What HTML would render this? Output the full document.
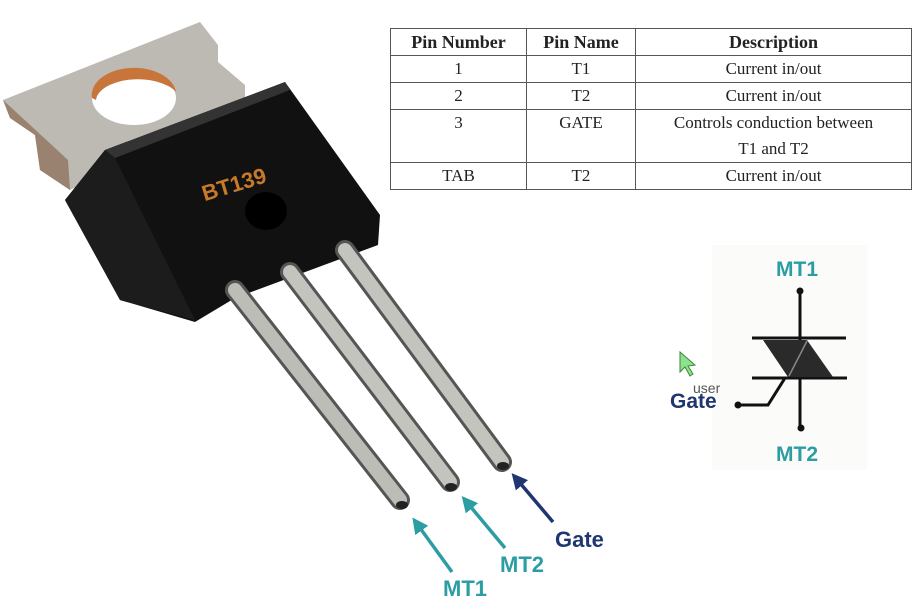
<!DOCTYPE html>
<html><head><meta charset="utf-8"><style>
body{margin:0;width:917px;height:602px;background:#fff;overflow:hidden;position:relative;font-family:"Liberation Sans",sans-serif}
table{position:absolute;left:390px;top:28px;width:522px;border-collapse:collapse;font-family:"Liberation Serif",serif;font-size:17px;color:#222}
td,th{border:1.5px solid #555;text-align:center;padding:0;line-height:26px}
th{font-weight:bold;font-size:18px}
</style></head><body>
<svg width="917" height="602" style="position:absolute;left:0;top:0">
<defs>
<marker id="at" markerWidth="16" markerHeight="16" refX="3" refY="8" orient="auto" markerUnits="userSpaceOnUse"><path d="M0,0 L16,8 L0,16 z" fill="#2b9da3"/></marker>
<marker id="an" markerWidth="16" markerHeight="16" refX="3" refY="8" orient="auto" markerUnits="userSpaceOnUse"><path d="M0,0 L16,8 L0,16 z" fill="#1f3670"/></marker>
</defs>
<!-- tab -->
<polygon points="3,100 200,22 218,45 218,62 245,85 245,100 70,190 40,170 35,135 10,118" fill="#bdbab3"/>
<polygon points="3,100 10,118 35,135 40,170 70,190 68,160" fill="#9a8270"/>
<ellipse cx="134" cy="98" rx="42" ry="27" fill="#fff"/>
<path d="M92,98 A42,27 0 0 1 176,92 A42,22 0 0 0 96,100 z" fill="#c8753c"/>
<!-- body -->
<polygon points="65,200 105,150 285,82 380,215 378,245 235,298 195,322 120,300" fill="#111"/>
<polygon points="105,150 285,82 290,90 115,158" fill="#333"/>
<polygon points="65,200 105,150 115,158 195,320 120,300" fill="#1c1c1c"/>
<text x="200" y="190" font-size="22" font-weight="bold" fill="#c87a2a" transform="rotate(-17 240 180)">BT139</text>
<ellipse cx="266" cy="211" rx="21" ry="19" fill="#000"/>
<!-- leads -->
<g stroke-linecap="round">
<line x1="235" y1="290" x2="400" y2="500" stroke="#555" stroke-width="20"/>
<line x1="235" y1="290" x2="400" y2="500" stroke="#bdbdb7" stroke-width="14"/>
<line x1="290" y1="272" x2="450" y2="482" stroke="#555" stroke-width="20"/>
<line x1="290" y1="272" x2="450" y2="482" stroke="#c4c4be" stroke-width="14"/>
<line x1="345" y1="250" x2="502" y2="462" stroke="#555" stroke-width="20"/>
<line x1="345" y1="250" x2="502" y2="462" stroke="#c4c4be" stroke-width="14"/>
</g>
<ellipse cx="402" cy="505" rx="6" ry="4" fill="#222"/>
<ellipse cx="451" cy="487" rx="6" ry="4" fill="#222"/>
<ellipse cx="503" cy="466" rx="6" ry="4" fill="#222"/>
<!-- arrows -->
<line x1="452" y1="572" x2="420" y2="528" stroke="#2b9da3" stroke-width="3.5" marker-end="url(#at)"/>
<line x1="505" y1="548" x2="470" y2="506" stroke="#2b9da3" stroke-width="3.5" marker-end="url(#at)"/>
<line x1="553" y1="522" x2="520" y2="483" stroke="#1f3670" stroke-width="3.5" marker-end="url(#an)"/>
<g font-weight="bold" font-size="22">
<text x="443" y="596" fill="#2b9da3">MT1</text>
<text x="500" y="572" fill="#2b9da3">MT2</text>
<text x="555" y="547" fill="#1f3670">Gate</text>
</g>
<!-- symbol -->
<rect x="712" y="245" width="155" height="225" fill="#fbfbfa"/>
<line x1="800" y1="291" x2="800" y2="428" stroke="#111" stroke-width="3"/>
<circle cx="800" cy="291" r="3.5" fill="#111"/><circle cx="801" cy="428" r="3.5" fill="#111"/>
<line x1="752" y1="338" x2="846" y2="338" stroke="#111" stroke-width="3"/>
<line x1="752" y1="378" x2="847" y2="378" stroke="#111" stroke-width="3"/>
<polygon points="763,340 807,340 788,377" fill="#2a2a2a"/>
<polygon points="807,340 788,377 833,377" fill="#2a2a2a"/>
<line x1="807" y1="341" x2="789" y2="376" stroke="#888" stroke-width="1.5"/>
<polyline points="738,405 768,405 785,378" fill="none" stroke="#111" stroke-width="3"/>
<circle cx="738" cy="405" r="3.5" fill="#111"/>
<g font-weight="bold" font-size="21">
<text x="776" y="276" fill="#2b9da3">MT1</text>
<text x="776" y="461" fill="#2b9da3">MT2</text>
<text x="670" y="408" fill="#1f3670">Gate</text>
</g>
<text x="693" y="393" font-size="14" fill="#555">user</text>
<polygon points="680,352 680,372 685,367 690,376 693,374 688,366 695,365" fill="#8fe08f" stroke="#3a8a3a" stroke-width="1"/>
</svg>
<table>
<tr><th style="width:135px">Pin Number</th><th style="width:108px">Pin Name</th><th>Description</th></tr>
<tr><td>1</td><td>T1</td><td>Current in/out</td></tr>
<tr><td>2</td><td>T2</td><td>Current in/out</td></tr>
<tr><td style="vertical-align:top">3</td><td style="vertical-align:top">GATE</td><td>Controls conduction between<br>T1 and T2</td></tr>
<tr><td>TAB</td><td>T2</td><td>Current in/out</td></tr>
</table>
</body></html>
